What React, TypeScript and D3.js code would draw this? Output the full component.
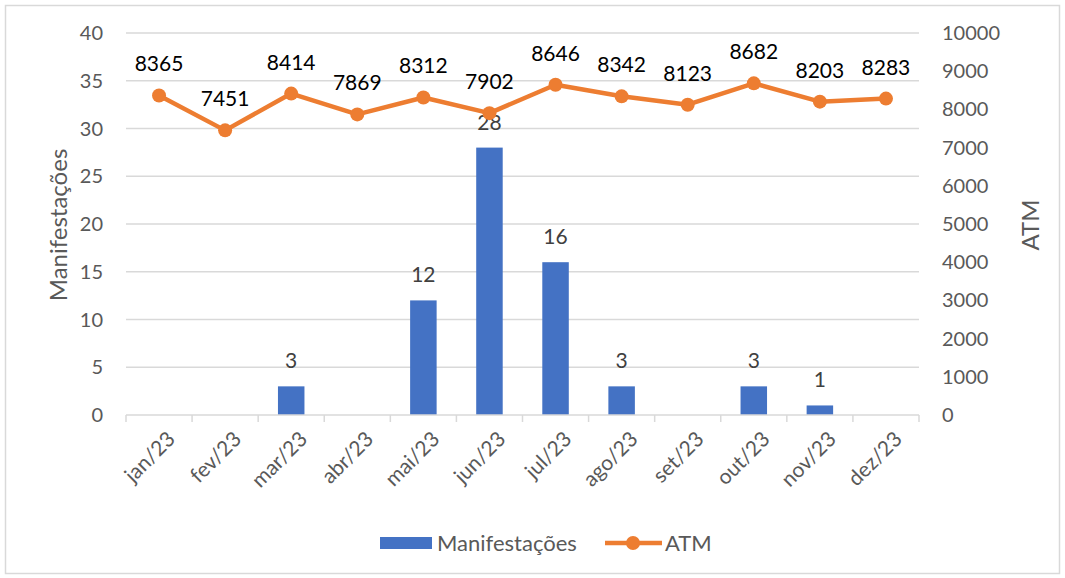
import React from "react";
import * as d3 from "d3";

const categories = ["jan/23", "fev/23", "mar/23", "abr/23", "mai/23", "jun/23", "jul/23", "ago/23", "set/23", "out/23", "nov/23", "dez/23"];
const manifestacoes = [0, 0, 3, 0, 12, 28, 16, 3, 0, 3, 1, 0];
const atm = [8365, 7451, 8414, 7869, 8312, 7902, 8646, 8342, 8123, 8682, 8203, 8283];
const leftTicks = [0, 5, 10, 15, 20, 25, 30, 35, 40];
const rightTicks = [0, 1000, 2000, 3000, 4000, 5000, 6000, 7000, 8000, 9000, 10000];

const W = 1065;
const H = 578;
const plotLeft = 126;
const plotRight = 919;
const plotTop = 33;
const plotBottom = 415;
const font = "Lato, 'Noto Sans', sans-serif";

export default function App() {
  const band = d3.scaleBand<string>().domain(categories).range([plotLeft, plotRight]);
  const yL = d3.scaleLinear().domain([0, 40]).range([plotBottom, plotTop]);
  const yR = d3.scaleLinear().domain([0, 10000]).range([plotBottom, plotTop]);
  const cx = (c: string) => (band(c) as number) + band.bandwidth() / 2;
  const bw = 26.5;
  const line = d3.line<number>().x((_, i) => cx(categories[i])).y((d) => yR(d));

  return (
    <svg width={W} height={H} style={{ position: "absolute", left: 0, top: 0 }} fontFamily={font}>
      <rect x={0} y={0} width={W} height={H} fill="#fff" />
      <rect x={5.5} y={5.5} width={1054} height={568} fill="#fff" stroke="#d9d9d9" strokeWidth={1.5} />
      {leftTicks.slice(1).map((t) => (
        <line key={t} x1={plotLeft} x2={plotRight} y1={yL(t)} y2={yL(t)} stroke="#d9d9d9" strokeWidth={1.5} />
      ))}
      {leftTicks.map((t) => (
        <text key={t} x={103} y={yL(t)} dy="0.35em" textAnchor="end" fontSize={20} fill="#595959">{t}</text>
      ))}
      {rightTicks.map((t) => (
        <text key={t} x={942} y={yR(t)} dy="0.35em" textAnchor="start" fontSize={20} fill="#595959">{t}</text>
      ))}
      {manifestacoes.map((v, i) => {
        const c = categories[i];
        return v > 0 ? (
          <rect key={c} x={cx(c) - bw / 2} y={yL(v)} width={bw} height={plotBottom - yL(v)} fill="#4472C4" />
        ) : null;
      })}
      <line x1={plotLeft} x2={plotRight} y1={plotBottom} y2={plotBottom} stroke="#d9d9d9" strokeWidth={1.5} />
      {d3.range(categories.length + 1).map((i) => {
        const xx = plotLeft + i * band.bandwidth();
        return <line key={i} x1={xx} x2={xx} y1={plotBottom} y2={plotBottom + 7} stroke="#d9d9d9" strokeWidth={1.5} />;
      })}
      {categories.map((c) => (
        <text key={c} transform={`translate(${cx(c) + 7},${plotBottom + 15}) rotate(-45)`} textAnchor="end" dy="0.7em" fontSize={21} fill="#595959">{c}</text>
      ))}
      {manifestacoes.map((v, i) => {
        const c = categories[i];
        return v > 0 ? (
          <text key={c} x={cx(c)} y={yL(v) - 18} textAnchor="middle" fontSize={21} fill="#404040">{v}</text>
        ) : null;
      })}
      <path d={line(atm) as string} fill="none" stroke="#ED7D31" strokeWidth={4.5} strokeLinejoin="round" />
      {atm.map((v, i) => (
        <circle key={i} cx={cx(categories[i])} cy={yR(v)} r={7} fill="#ED7D31" />
      ))}
      {atm.map((v, i) => (
        <text key={i} x={cx(categories[i])} y={yR(v) - 24} textAnchor="middle" fontSize={21} fill="#000">{v}</text>
      ))}
      <text transform={`translate(67,225) rotate(-90)`} textAnchor="middle" fontSize={24} fill="#595959">Manifestações</text>
      <text transform={`translate(1039,225) rotate(-90)`} textAnchor="middle" fontSize={24} fill="#595959">ATM</text>
      <rect x={380} y={537} width={52} height={12} fill="#4472C4" />
      <text x={437} y={543} dy="0.35em" fontSize={22} fill="#595959">Manifestações</text>
      <line x1={605} x2={662} y1={543} y2={543} stroke="#ED7D31" strokeWidth={4.5} />
      <circle cx={633} cy={543} r={7} fill="#ED7D31" />
      <text x={665} y={543} dy="0.35em" fontSize={22} fill="#595959">ATM</text>
    </svg>
  );
}
